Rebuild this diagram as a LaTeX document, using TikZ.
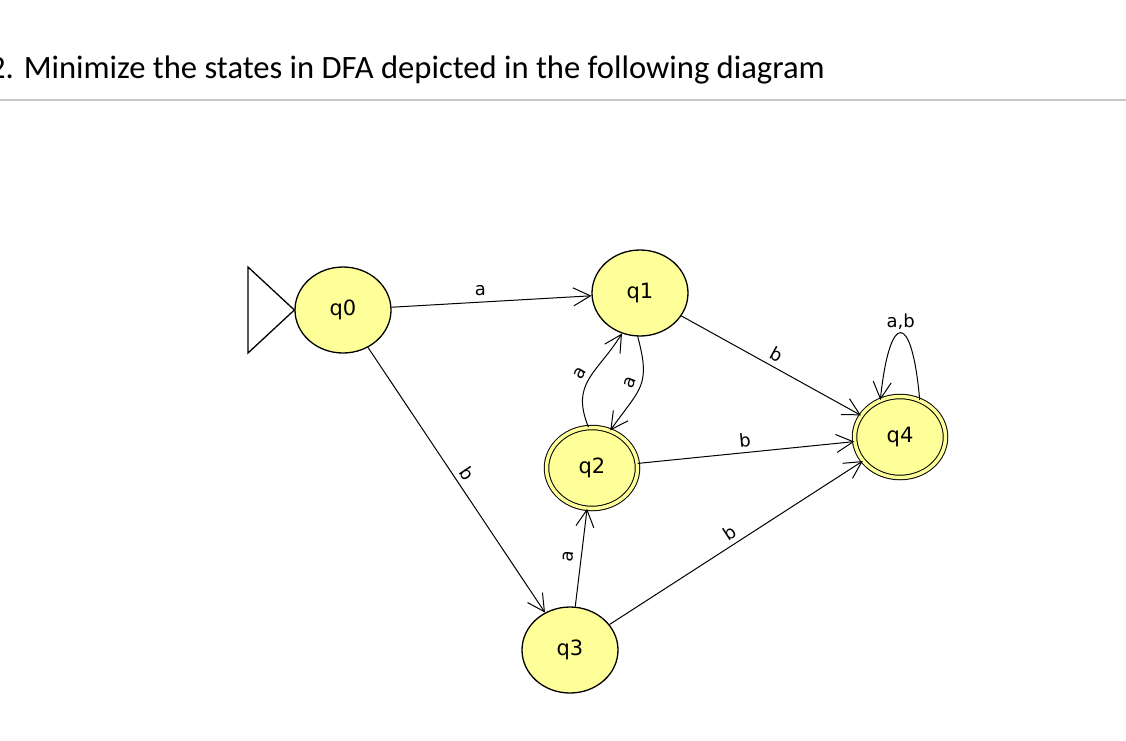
\documentclass[tikz,border=0pt]{standalone}
\usepackage{fontspec}
\setmainfont{DejaVu Sans}
\newfontfamily\titlefont{Carlito}
\usetikzlibrary{arrows.meta,shapes.geometric}
\definecolor{statefill}{RGB}{255,255,153}
\definecolor{rulegray}{RGB}{200,200,200}
\tikzset{
  stateshape/.style={ellipse, draw=black, line width=1.3pt, fill=statefill,
    minimum width=96pt, minimum height=86pt, inner sep=0pt,
    font=\fontsize{21}{21}\selectfont},
  finalshape/.style={stateshape, double=statefill, double distance=3.5pt, line width=1pt,
    minimum width=91pt, minimum height=81pt},
  trans/.style={draw=black, line width=1pt, -{Straight Barb[length=17pt,width=18pt,line width=1pt]}},
  lbl/.style={font=\fontsize{18}{18}\selectfont, inner sep=5pt}
}
\begin{document}
\begin{tikzpicture}[x=1pt,y=1pt]
\useasboundingbox (0,0) rectangle (1126,-740);
\fill[white] (0,0) rectangle (1126,-740);
% title
\node[anchor=base west, inner sep=0pt, font=\titlefont\fontsize{32.6}{33}\selectfont] (title) at (-11,-78) {2. Minimize the states in DFA depicted in the following diagram};
\draw[rulegray, line width=2pt] (0,-100) -- (1126,-100);
% states
\node[stateshape] (q0) at (343,-310) {q0};
\node[stateshape] (q1) at (640,-293) {q1};
\node[finalshape] (q2) at (592,-468) {q2};
\node[stateshape] (q3) at (570,-650) {q3};
\node[finalshape] (q4) at (900,-437) {q4};
% start marker
\draw[line width=1.3pt, line join=miter] (248,-267) -- (248,-353) -- (q0.west) -- cycle;
% transitions
\draw[trans] (q0) -- node[lbl, auto] {a} (q1);
\draw[trans] (q0) -- node[lbl, auto, sloped] {b} (q3);
\draw[trans] (q1) -- node[lbl, auto, sloped] {b} (q4);
\draw[trans] (q2) -- node[lbl, auto, sloped] {b} (q4);
\draw[trans] (q3) -- node[lbl, auto, sloped] {b} (q4);
\draw[trans] (q3) -- node[lbl, auto, sloped, inner sep=7pt] {a} (q2);
\draw[trans] (q2.95) .. controls +(112:48) and +(-122:48) .. node[lbl, auto, sloped] {a} (q1.-114);
\draw[trans] (q1.-93) .. controls +(-75:52) and +(55:52) .. node[lbl, auto, sloped] {a} (q2.64);
\draw[trans] (q4.62) .. controls +(95:90) and +(84:90) .. node[lbl, above, inner sep=3pt] {a,b} (q4.118);
\end{tikzpicture}
\end{document}
